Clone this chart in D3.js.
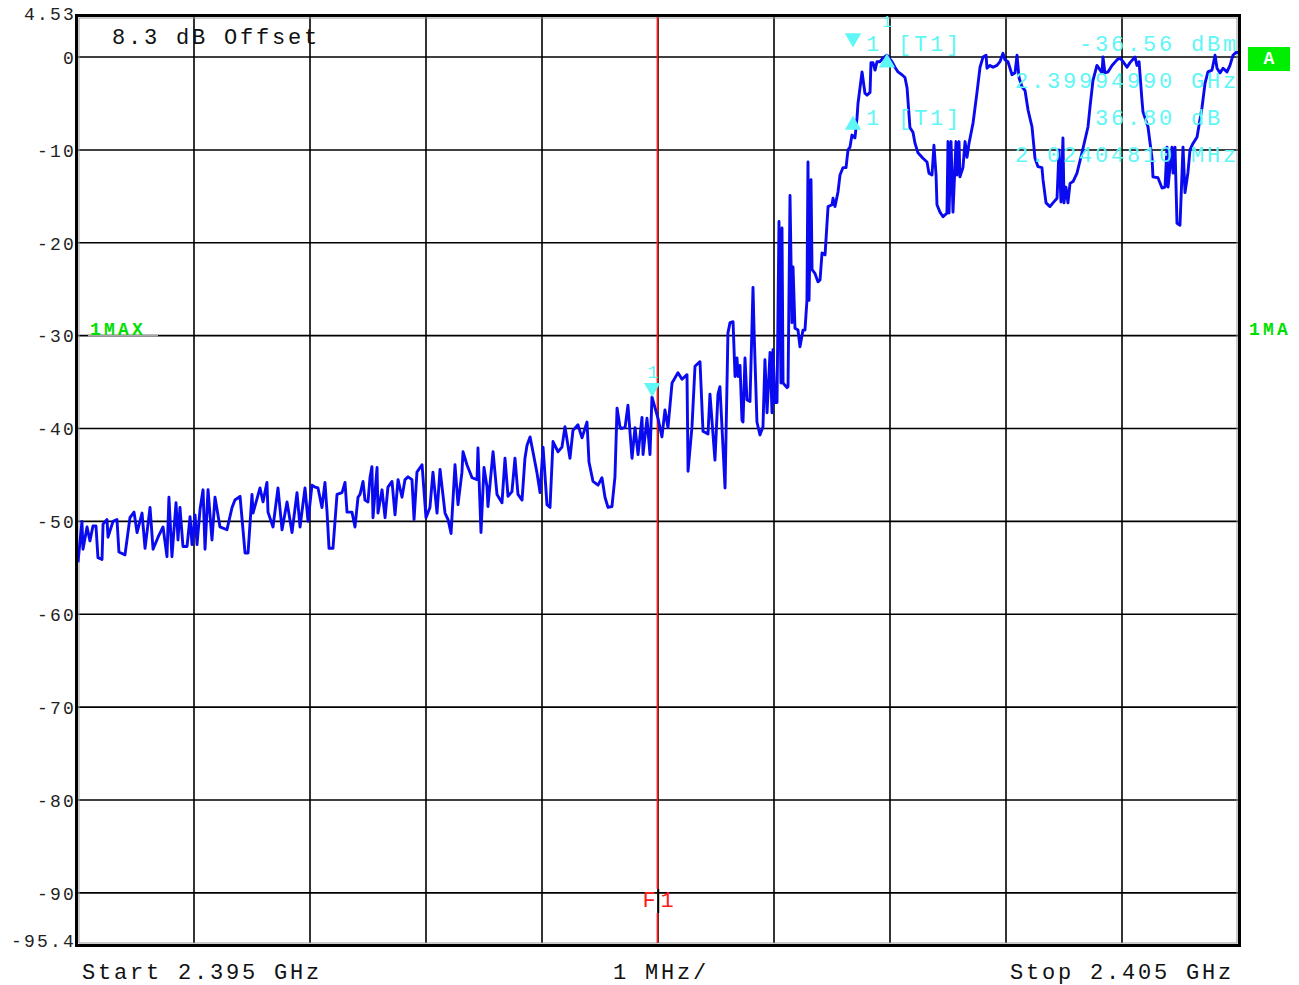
<!DOCTYPE html>
<html>
<head>
<meta charset="utf-8">
<script src="https://cdn.jsdelivr.net/npm/d3@7"></script>
<style>
body { margin: 0; background: #fff; }
text { white-space: pre; }
</style>
</head>
<body>
<script>
// chart size
var width = 1299,
    height = 985;

// trace 1 (max hold): [offset from start in MHz, level in dBm]
var trace = [
  [0.000,-54.4],[0.034,-50.0],[0.043,-53.0],[0.078,-50.6],[0.103,-52.1],[0.129,-50.5],[0.155,-50.5],[0.172,-53.9],
  [0.207,-54.1],[0.216,-50.3],[0.250,-49.8],[0.259,-51.7],[0.302,-50.0],[0.336,-49.8],[0.353,-53.3],[0.405,-53.6],
  [0.448,-49.6],[0.483,-49.0],[0.509,-51.2],[0.552,-49.1],[0.578,-52.9],[0.621,-48.5],[0.647,-53.0],[0.690,-51.7],
  [0.733,-50.6],[0.767,-53.8],[0.784,-47.4],[0.810,-53.8],[0.845,-48.0],[0.862,-52.0],[0.879,-48.5],[0.905,-52.7],
  [0.940,-52.7],[0.966,-49.5],[0.983,-52.5],[1.009,-49.3],[1.026,-52.5],[1.052,-48.7],[1.078,-46.6],[1.095,-53.0],
  [1.121,-46.6],[1.155,-52.0],[1.181,-47.4],[1.224,-50.6],[1.284,-50.9],[1.328,-48.5],[1.353,-47.7],[1.397,-47.3],
  [1.440,-53.4],[1.466,-53.4],[1.500,-47.1],[1.509,-49.1],[1.569,-46.4],[1.595,-47.9],[1.629,-45.8],[1.638,-49.0],
  [1.681,-50.6],[1.724,-46.4],[1.759,-50.9],[1.802,-47.9],[1.845,-51.2],[1.888,-46.9],[1.914,-50.6],[1.957,-46.4],
  [1.983,-50.0],[2.017,-46.1],[2.043,-46.3],[2.069,-46.4],[2.103,-48.5],[2.129,-45.8],[2.147,-49.0],[2.164,-52.9],
  [2.198,-52.9],[2.233,-47.1],[2.276,-46.9],[2.302,-45.8],[2.319,-49.0],[2.362,-49.0],[2.388,-50.6],[2.414,-47.4],
  [2.431,-47.1],[2.457,-45.7],[2.474,-47.7],[2.500,-47.9],[2.517,-45.3],[2.534,-44.1],[2.543,-49.6],[2.578,-44.2],
  [2.586,-49.1],[2.621,-46.6],[2.647,-49.6],[2.672,-46.3],[2.707,-45.7],[2.733,-49.3],[2.759,-45.5],[2.793,-47.4],
  [2.819,-45.5],[2.845,-45.2],[2.879,-45.5],[2.897,-49.8],[2.922,-44.7],[2.966,-43.9],[3.000,-49.6],[3.034,-48.5],
  [3.060,-44.7],[3.095,-49.1],[3.121,-44.4],[3.164,-49.1],[3.190,-49.8],[3.216,-51.3],[3.250,-43.9],[3.276,-48.2],
  [3.310,-44.7],[3.319,-42.5],[3.353,-43.9],[3.397,-45.3],[3.440,-45.5],[3.448,-42.1],[3.474,-51.2],[3.500,-44.2],
  [3.526,-46.3],[3.534,-48.4],[3.578,-42.5],[3.612,-47.1],[3.655,-48.0],[3.681,-43.2],[3.707,-47.3],[3.741,-46.8],
  [3.767,-43.2],[3.793,-47.1],[3.828,-47.7],[3.853,-43.2],[3.871,-41.8],[3.897,-40.9],[3.922,-42.5],[3.957,-44.8],
  [3.983,-46.9],[4.009,-42.0],[4.043,-48.2],[4.069,-48.5],[4.095,-41.4],[4.138,-42.5],[4.172,-42.0],[4.198,-39.8],
  [4.241,-43.2],[4.267,-40.2],[4.310,-39.6],[4.345,-41.0],[4.388,-39.3],[4.405,-43.6],[4.440,-45.7],[4.483,-46.1],
  [4.517,-45.3],[4.543,-47.4],[4.569,-48.5],[4.603,-48.4],[4.629,-45.2],[4.647,-37.8],[4.672,-39.8],[4.681,-40.0],
  [4.716,-39.9],[4.741,-37.5],[4.776,-43.2],[4.802,-39.9],[4.828,-42.8],[4.862,-38.8],[4.871,-42.8],[4.905,-38.9],
  [4.931,-42.8],[4.948,-36.6],[5.000,-38.9],[5.034,-40.9],[5.060,-38.0],[5.086,-39.9],[5.121,-35.1],[5.172,-34.0],
  [5.207,-34.7],[5.250,-34.2],[5.259,-44.6],[5.293,-39.8],[5.319,-33.3],[5.362,-32.8],[5.388,-40.3],[5.431,-40.6],
  [5.448,-36.3],[5.491,-43.4],[5.517,-36.3],[5.534,-35.5],[5.578,-46.4],[5.603,-29.7],[5.621,-28.6],[5.647,-28.5],
  [5.664,-34.4],[5.681,-32.4],[5.690,-34.4],[5.707,-33.2],[5.724,-39.1],[5.733,-39.3],[5.750,-32.4],[5.767,-36.9],
  [5.793,-37.1],[5.810,-29.2],[5.819,-24.8],[5.828,-29.4],[5.853,-39.3],[5.879,-40.7],[5.905,-39.8],[5.922,-32.6],
  [5.940,-38.3],[5.966,-31.8],[5.983,-38.3],[5.991,-31.5],[6.009,-37.2],[6.026,-37.2],[6.043,-17.7],[6.060,-35.1],
  [6.069,-18.4],[6.078,-35.1],[6.112,-35.6],[6.121,-35.5],[6.138,-14.9],[6.155,-28.6],[6.164,-22.6],[6.181,-29.2],
  [6.207,-29.4],[6.224,-31.2],[6.250,-29.4],[6.267,-29.4],[6.284,-26.2],[6.293,-11.3],[6.302,-26.2],[6.319,-13.2],
  [6.328,-22.9],[6.353,-23.3],[6.379,-24.2],[6.397,-24.0],[6.414,-21.1],[6.440,-21.3],[6.466,-16.1],[6.500,-15.9],
  [6.509,-15.2],[6.526,-16.1],[6.552,-14.5],[6.569,-12.7],[6.595,-11.9],[6.621,-11.9],[6.638,-10.0],[6.655,-9.7],
  [6.672,-8.4],[6.698,-8.7],[6.716,-6.5],[6.724,-5.0],[6.759,-1.6],[6.784,-3.9],[6.802,-4.1],[6.828,-3.8],
  [6.836,-0.6],[6.853,-0.6],[6.871,-1.4],[6.888,-0.5],[6.914,-0.5],[6.940,-0.1],[6.974,0.2],[7.017,-0.5],
  [7.043,-1.1],[7.069,-1.6],[7.103,-1.9],[7.129,-2.2],[7.147,-3.3],[7.172,-7.6],[7.198,-8.1],[7.216,-9.3],
  [7.241,-10.3],[7.284,-10.9],[7.319,-11.3],[7.336,-12.5],[7.362,-12.7],[7.379,-9.5],[7.397,-12.7],[7.405,-15.9],
  [7.431,-16.7],[7.457,-17.2],[7.491,-16.8],[7.500,-9.1],[7.509,-16.8],[7.526,-9.1],[7.543,-16.7],[7.569,-9.1],
  [7.578,-12.7],[7.595,-9.1],[7.603,-12.9],[7.629,-11.9],[7.647,-9.1],[7.664,-10.8],[7.681,-9.3],[7.716,-7.1],
  [7.750,-3.8],[7.776,-1.1],[7.802,0.0],[7.828,0.2],[7.836,-1.2],[7.862,-0.9],[7.888,-1.1],[7.922,-0.9],
  [7.948,-0.5],[7.974,0.4],[7.991,-0.3],[8.017,-0.5],[8.052,-1.9],[8.078,-1.7],[8.095,0.2],[8.112,-2.2],
  [8.138,-3.2],[8.164,-3.6],[8.190,-5.7],[8.224,-7.5],[8.250,-10.9],[8.276,-11.8],[8.310,-11.9],[8.319,-13.2],
  [8.345,-15.7],[8.379,-16.1],[8.405,-15.7],[8.440,-15.2],[8.457,-10.0],[8.474,-15.6],[8.491,-8.7],[8.500,-15.7],
  [8.517,-14.0],[8.534,-15.7],[8.552,-13.6],[8.578,-13.4],[8.612,-12.5],[8.655,-10.3],[8.707,-7.5],[8.724,-5.4],
  [8.750,-2.5],[8.784,-0.9],[8.828,-1.7],[8.836,0.0],[8.853,-1.7],[8.879,-1.6],[8.914,-0.9],[8.957,-0.3],
  [8.983,-0.1],[9.009,-0.5],[9.043,-1.1],[9.069,-0.6],[9.112,0.0],[9.129,-0.9],[9.147,-0.5],[9.172,-4.6],
  [9.181,-5.9],[9.224,-7.5],[9.259,-10.9],[9.267,-12.9],[9.310,-13.0],[9.345,-14.1],[9.371,-14.0],[9.388,-9.7],
  [9.397,-14.0],[9.431,-9.7],[9.440,-12.5],[9.457,-9.7],[9.474,-17.9],[9.500,-18.1],[9.526,-9.7],[9.543,-14.6],
  [9.569,-12.4],[9.586,-10.0],[9.612,-9.3],[9.647,-8.6],[9.690,-5.4],[9.716,-2.8],[9.741,-1.6],[9.776,-1.4],
  [9.802,0.2],[9.819,-1.2],[9.845,-1.7],[9.871,-1.2],[9.905,-1.6],[9.931,-0.9],[9.957,0.2],[9.983,0.5],[10.000,0.5]
];

// axis settings
var spanMHz = [0, 10],
    refTop = 4.53,
    refBottom = -95.4;
var yTicks = [0, -10, -20, -30, -40, -50, -60, -70, -80, -90];
var xGrid = [1, 2, 3, 4, 5, 6, 7, 8, 9];
var bottomLabels = ["Start 2.395 GHz", "1 MHz/", "Stop 2.405 GHz"];

// marker 1 and delta marker (both on trace 1)
var markerPts = [
  { name: "1", f: 4.9499, level: -36.56, dir: "down" },
  { name: "1", f: 6.9740, level: 0.24, dir: "up" }
];
var markerRows = [
  ["1 [T1]", "-36.56 dBm"],
  ["", "2.39994990 GHz"],
  ["1 [T1]", "36.80 dB "],
  ["", "2.02404810 MHz"]
];
var f1MHz = 4.995;

var mono = "'Nimbus Mono PS', 'Courier New', Courier, FreeMono, 'Liberation Mono', monospace";
var cyan = "#5ff6f6";
var bigSize = 22, bigSpacing = 2.8;   // 16px character pitch

var x = d3.scaleLinear().domain(spanMHz).range([78, 1238]);
var y = d3.scaleLinear().domain([refTop, refBottom]).range([15, 943]);

var svg = d3.select("body").append("svg")
    .attr("width", width)
    .attr("height", height)
    .style("font-family", mono);

// grid
svg.append("g")
    .selectAll("line.v")
    .data(xGrid)
    .enter().append("line")
    .attr("x1", function(d) { return x(d); })
    .attr("x2", function(d) { return x(d); })
    .attr("y1", y(refTop))
    .attr("y2", y(refBottom))
    .attr("stroke", "#000")
    .attr("stroke-width", 1.6);

svg.append("g")
    .selectAll("line.h")
    .data(yTicks)
    .enter().append("line")
    .attr("x1", x(0))
    .attr("x2", x(10))
    .attr("y1", function(d) { return y(d); })
    .attr("y2", function(d) { return y(d); })
    .attr("stroke", "#000")
    .attr("stroke-width", 1.6);

// grey stub of trace label line
svg.append("line")
    .attr("x1", 88).attr("x2", 158)
    .attr("y1", y(-30)).attr("y2", y(-30))
    .attr("stroke", "#a8a8a8").attr("stroke-width", 1.6);

// frame (double line)
svg.append("rect")
    .attr("x", x(0) - 1.5).attr("y", y(refTop) + 0.5)
    .attr("width", x(10) - x(0) + 3).attr("height", y(refBottom) - y(refTop) + 2)
    .attr("fill", "none").attr("stroke", "#000").attr("stroke-width", 3);
svg.append("rect")
    .attr("x", x(0) + 1).attr("y", y(refTop) + 3)
    .attr("width", x(10) - x(0) - 2).attr("height", y(refBottom) - y(refTop) - 3)
    .attr("fill", "none").attr("stroke", "#999").attr("stroke-width", 1);

// y tick labels
var yAxis = d3.axisLeft(y)
    .tickValues([refTop].concat(yTicks, [refBottom]))
    .tickSize(0)
    .tickPadding(0)
    .tickFormat(function(d) { return String(d); });

var gy = svg.append("g")
    .attr("transform", "translate(" + (x(0) - 2) + ",0)")
    .call(yAxis);
gy.select(".domain").remove();
gy.selectAll("text")
    .attr("font-family", mono)
    .attr("font-size", 18)
    .attr("letter-spacing", 2.2)
    .attr("fill", "#222")
    .attr("dy", "0.35em");
gy.selectAll(".tick").filter(function(d) { return d === refTop; }).select("text").attr("dy", "0.25em");
gy.selectAll(".tick").filter(function(d) { return d === refBottom; }).select("text").attr("dy", "0.2em");

// red F1 frequency line
var f1x = x(f1MHz);
svg.append("line")
    .attr("x1", f1x).attr("x2", f1x)
    .attr("y1", y(refTop) + 2).attr("y2", 889)
    .attr("stroke", "#ff1a1a").attr("stroke-width", 1.6);
svg.append("line")
    .attr("x1", f1x).attr("x2", f1x)
    .attr("y1", 913).attr("y2", y(refBottom))
    .attr("stroke", "#ff1a1a").attr("stroke-width", 1.6);
svg.append("line")
    .attr("x1", f1x + 1).attr("x2", f1x + 1)
    .attr("y1", 889).attr("y2", 913)
    .attr("stroke", "#000").attr("stroke-width", 1.6);
svg.append("text")
    .attr("x", f1x - 15).attr("y", 907)
    .attr("font-size", bigSize)
    .attr("fill", "#ff1a1a")
    .text("F");
svg.append("text")
    .attr("x", f1x + 3).attr("y", 907)
    .attr("font-size", bigSize)
    .attr("fill", "#ff1a1a")
    .text("1");

// trace
svg.append("clipPath").attr("id", "plot")
    .append("rect")
    .attr("x", x(0)).attr("y", y(refTop))
    .attr("width", x(10) - x(0)).attr("height", y(refBottom) - y(refTop));

var line = d3.line()
    .x(function(d) { return x(d[0]); })
    .y(function(d) { return y(d[1]); });

svg.append("path")
    .datum(trace)
    .attr("clip-path", "url(#plot)")
    .attr("d", line)
    .attr("fill", "none")
    .attr("stroke", "#0a0af0")
    .attr("stroke-width", 2.9)
    .attr("stroke-linejoin", "round");

// markers on trace
var tri = d3.symbol().type(d3.symbolTriangle).size(115);
markerPts.forEach(function(m) {
    var mx = x(m.f), my = y(m.level);
    var down = m.dir === "down";
    svg.append("path")
        .attr("d", tri)
        .attr("transform", "translate(" + mx + "," + (down ? my - 9 : my + 8) + ")" + (down ? " rotate(180)" : ""))
        .attr("fill", cyan);
    svg.append("text")
        .attr("x", mx - 5)
        .attr("y", down ? my - 19 : my - 28)
        .attr("font-size", down ? 19 : 16)
        .attr("fill", cyan)
        .text(m.name);
});

// marker info box
var rowY = [44, 81, 118, 155];
svg.append("path").attr("d", tri)
    .attr("transform", "translate(853,38) rotate(180)").attr("fill", cyan);
svg.append("path").attr("d", tri)
    .attr("transform", "translate(853,125)").attr("fill", cyan);

markerRows.forEach(function(r, i) {
    if (r[0]) {
        svg.append("text")
            .attr("x", 866).attr("y", rowY[i] + 7)
            .attr("font-size", bigSize).attr("letter-spacing", bigSpacing)
            .attr("fill", cyan)
            .text(r[0]);
    }
    svg.append("text")
        .attr("x", 1239).attr("y", rowY[i] + 7)
        .attr("text-anchor", "end")
        .attr("font-size", bigSize).attr("letter-spacing", bigSpacing)
        .attr("fill", cyan)
        .text(r[1]);
});

// offset note
svg.append("text")
    .attr("x", 112).attr("y", 44)
    .attr("font-size", bigSize).attr("letter-spacing", bigSpacing)
    .attr("fill", "#111")
    .text("8.3 dB Offset");

// trace labels
svg.append("text")
    .attr("x", 90).attr("y", 335)
    .attr("font-size", 18).attr("font-weight", "bold").attr("letter-spacing", 3.2)
    .attr("fill", "#00e000")
    .text("1MAX");
svg.append("text")
    .attr("x", 1249).attr("y", 335)
    .attr("font-size", 18).attr("font-weight", "bold").attr("letter-spacing", 3.2)
    .attr("fill", "#00e000")
    .text("1MA");

// "A" badge
svg.append("rect")
    .attr("x", 1248).attr("y", 47).attr("width", 42).attr("height", 24)
    .attr("fill", "#00ee00");
svg.append("text")
    .attr("x", 1269).attr("y", 64)
    .attr("text-anchor", "middle")
    .attr("font-size", 18).attr("font-weight", "bold")
    .attr("fill", "#fff")
    .text("A");

// bottom annotation
var bx = [82, 613, 1010];
svg.selectAll("text.bottom")
    .data(bottomLabels)
    .enter().append("text")
    .attr("class", "bottom")
    .attr("x", function(d, i) { return bx[i]; })
    .attr("y", 979)
    .attr("font-size", bigSize).attr("letter-spacing", bigSpacing)
    .attr("fill", "#111")
    .text(function(d) { return d; });
</script>
</body>
</html>
